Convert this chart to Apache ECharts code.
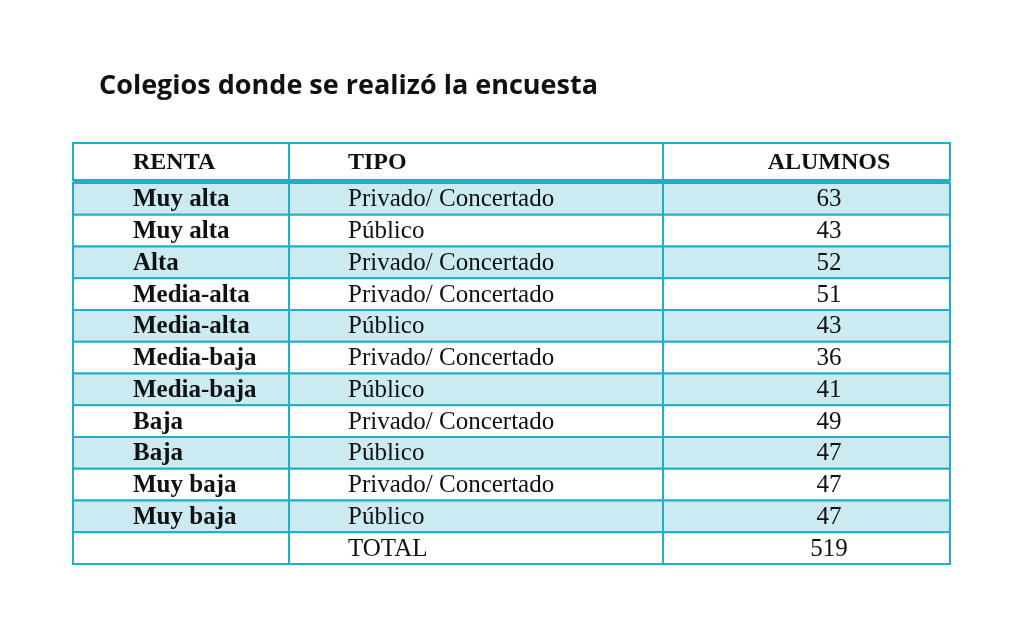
<!DOCTYPE html>
<html><head><meta charset="utf-8">
<script src="https://cdn.jsdelivr.net/npm/echarts@6/dist/echarts.min.js"></script>
<style>html,body{margin:0;background:#fff}#c{width:1024px;height:637px}</style>
</head><body><div id="c"></div>
<script>
var title = 'Colegios donde se realizó la encuesta';
var headers = ['RENTA', 'TIPO', 'ALUMNOS'];
var renta = ['Muy alta','Muy alta','Alta','Media-alta','Media-alta','Media-baja','Media-baja','Baja','Baja','Muy baja','Muy baja',''];
var tipo = ['Privado/ Concertado','Público','Privado/ Concertado','Privado/ Concertado','Público','Privado/ Concertado','Público','Privado/ Concertado','Público','Privado/ Concertado','Público','TOTAL'];
var alumnos = [63,43,52,51,43,36,41,49,47,47,47,519];

var chart = echarts.init(document.getElementById('c'));
var teal = '#1fb0c8', fill = '#cbeaf2';
var colX = [73, 289, 663, 950];
var headTop = 143, headBot = 180, rowTop = 183, rowH = 31.75;
var g = [];
var serif = '"Liberation Serif", "DejaVu Serif", serif';
g.push({type:'text', left:99, top:73, style:{text:title, font:'bold 27px "Open Sans", sans-serif', fill:'#111'}});
// header
g.push({type:'rect', shape:{x:colX[0], y:headTop, width:colX[3]-colX[0], height:headBot-headTop}, style:{fill:'#fff', stroke:teal, lineWidth:2}});
var headX = [133, 348, 829];
headers.forEach(function(h, i){
  g.push({type:'text', x:headX[i], y:(headTop+headBot)/2 + 1, style:{text:h, font:'bold 24px '+serif, fill:'#111', verticalAlign:'middle', align:i==2?'center':'left'}});
});
g.push({type:'line', shape:{x1:colX[0], y1:181, x2:colX[3], y2:181}, style:{stroke:teal, lineWidth:4}});
renta.forEach(function(r, i){
  var y = rowTop + i*rowH;
  g.push({type:'rect', shape:{x:colX[0], y:y, width:colX[3]-colX[0], height:rowH}, style:{fill:(i%2==0 && i<11)?fill:'#fff', stroke:teal, lineWidth:2}});
  var cy = y + rowH/2 + 1;
  g.push({type:'text', x:133, y:cy, style:{text:r, font:'bold 25px '+serif, fill:'#111', verticalAlign:'middle'}});
  g.push({type:'text', x:348, y:cy, style:{text:tipo[i], font:'25px '+serif, fill:'#111', verticalAlign:'middle'}});
  g.push({type:'text', x:829, y:cy, style:{text:String(alumnos[i]), font:'25px '+serif, fill:'#111', verticalAlign:'middle', align:'center'}});
});
var bottom = rowTop + renta.length*rowH;
[1,2].forEach(function(k){
  g.push({type:'line', shape:{x1:colX[k], y1:headTop, x2:colX[k], y2:bottom}, style:{stroke:teal, lineWidth:2}, z:10});
});
chart.setOption({animation:false, graphic:g});
</script></body></html>
